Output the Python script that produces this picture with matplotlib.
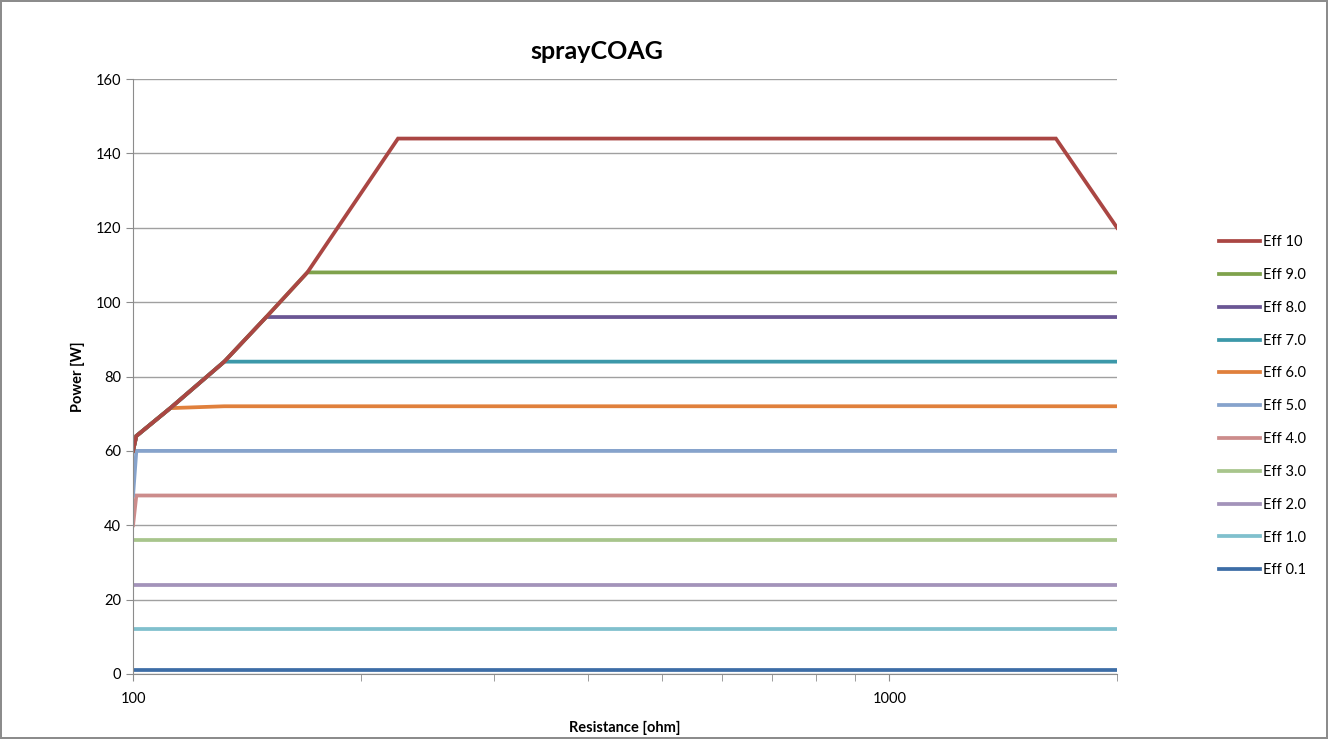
import numpy as np
import matplotlib.pyplot as plt
from matplotlib.ticker import FixedLocator, NullFormatter

plt.rcParams['font.family'] = ['Lato', 'DejaVu Sans']

# resistance points [ohm]
resistance = [100, 101, 112, 132, 150, 170, 224, 1660, 2000]

labels = ['Eff 10', 'Eff 9.0', 'Eff 8.0', 'Eff 7.0', 'Eff 6.0', 'Eff 5.0',
          'Eff 4.0', 'Eff 3.0', 'Eff 2.0', 'Eff 1.0', 'Eff 0.1']

eff10 = [60, 64, 71.5, 84, 96, 108, 144, 144, 120]
eff9 = [60, 64, 71.5, 84, 96, 108, 108, 108, 108]
eff8 = [60, 64, 71.5, 84, 96, 96, 96, 96, 96]
eff7 = [60, 64, 71.5, 84, 84, 84, 84, 84, 84]
eff6 = [60, 64, 71.5, 72, 72, 72, 72, 72, 72]
eff5 = [48, 60, 60, 60, 60, 60, 60, 60, 60]
eff4 = [40, 48, 48, 48, 48, 48, 48, 48, 48]
eff3 = [36, 36, 36, 36, 36, 36, 36, 36, 36]
eff2 = [24, 24, 24, 24, 24, 24, 24, 24, 24]
eff1 = [12, 12, 12, 12, 12, 12, 12, 12, 12]
eff01 = [1.2, 1.2, 1.2, 1.2, 1.2, 1.2, 1.2, 1.2, 1.2]

series = [eff10, eff9, eff8, eff7, eff6, eff5, eff4, eff3, eff2, eff1, eff01]
colors = ['#AA4643', '#7FA24C', '#6A5694', '#3C98A9', '#E0803C', '#86A3CC',
          '#CC8C8B', '#A8C58C', '#A393BA', '#80C0CD', '#3D6DA6']

fig = plt.figure(figsize=(13.28, 7.39), dpi=100)
fig.patch.set_edgecolor('#8c8c8c')
fig.patch.set_linewidth(1.5)
ax = fig.add_axes([0.1002, 0.088, 0.7410, 0.805])

# draw low series first so the top ones sit on top
for vals, lab, col in reversed(list(zip(series, labels, colors))):
    ax.plot(resistance, vals, color=col, lw=2.7, label=lab, solid_joinstyle='miter')

ax.set_xscale('log')
ax.set_xlim(100, 2000)
ax.set_ylim(0, 160)
ax.set_yticks(range(0, 161, 20))
ax.xaxis.set_major_locator(FixedLocator([100, 1000]))
ax.xaxis.set_minor_locator(FixedLocator([200, 300, 400, 500, 600, 700, 800, 900, 2000]))
ax.xaxis.set_major_formatter(plt.FuncFormatter(lambda v, p: '%d' % v))
ax.xaxis.set_minor_formatter(NullFormatter())

ax.grid(axis='y', color='#a0a0a0', lw=1)
ax.set_axisbelow(True)
for s in ['top', 'right']:
    ax.spines[s].set_visible(False)
for s in ['left', 'bottom']:
    ax.spines[s].set_color('#8c8c8c')
ax.tick_params(axis='both', which='both', color='#8c8c8c', labelsize=10.5, length=5)
ax.tick_params(axis='x', which='major', pad=8)

fig.text(0.4495, 0.93, 'sprayCOAG', fontsize=18, fontweight='bold', ha='center', va='center')
ax.set_xlabel('Resistance [ohm]', fontsize=10.5, fontweight='bold', labelpad=11)
ax.set_ylabel('Power [W]', fontsize=10.5, fontweight='bold', labelpad=8)

handles, labs = ax.get_legend_handles_labels()
ax.legend(handles[::-1], labs[::-1], loc='center left', bbox_to_anchor=(1.098, 0.45),
          frameon=False, fontsize=10.5, handlelength=2.8, handletextpad=0.2,
          labelspacing=1.29, borderaxespad=0)

fig.savefig('out.png', dpi=100, edgecolor=fig.get_edgecolor())
